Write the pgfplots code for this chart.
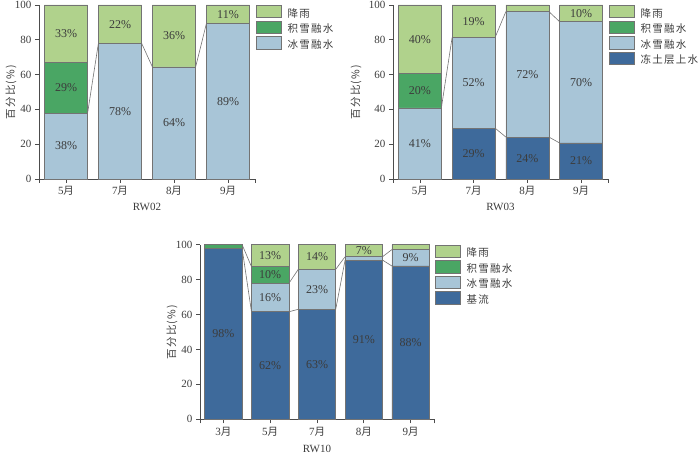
\documentclass[border=0pt]{standalone}
\usepackage{fontspec}
\setmainfont{Liberation Serif}
\newfontfamily\cjk{Noto Sans CJK SC}[LetterSpace=12]
\usepackage{pgfplots}
\pgfplotsset{compat=1.18}
\definecolor{rain}{RGB}{176,210,140}
\definecolor{snow}{RGB}{74,166,100}
\definecolor{ice}{RGB}{168,197,215}
\definecolor{base}{RGB}{62,106,155}
\definecolor{edge}{RGB}{115,115,115}
\definecolor{txt}{RGB}{60,60,60}
\newcommand\yue{{\cjk\fontsize{10.5}{12}\selectfont 月}}
\pgfplotsset{
  mybars/.style={
    ybar stacked, bar width=0.8, scale only axis, clip=false,
    ymin=0, ymax=100, ytick={0,20,...,100},
    axis x line*=bottom, axis y line*=left,
    axis line style={-, draw=black!70, line width=0.7pt},
    tick align=outside, major tick length=4pt,
    tick style={draw=black!70, line width=0.7pt},
    ticklabel style={font=\fontsize{11}{12}\selectfont, text=txt},
    /pgf/number format/assume math mode=true,
    ylabel={\cjk\fontsize{10.5}{12}\selectfont 百分比(\%)},
    ylabel style={anchor=center, text=txt},
    xlabel style={anchor=center, font=\fontsize{11}{12}\selectfont, text=txt},
    every axis plot/.append style={draw=edge, line width=0.6pt},
    legend style={at={(1,1)}, anchor=north west, xshift=1pt, draw=none, fill=none,
      inner sep=0pt, outer sep=0pt, row sep=0pt,
      font=\cjk\fontsize{10.5}{12}\selectfont, text=txt,
      nodes={inner sep=0pt, text height=9pt, text depth=3.5pt},
      /tikz/every odd column/.append style={column sep=6pt}},
    legend image code/.code={\draw[#1, draw=edge, line width=0.6pt] (0pt,-3.5pt) rectangle (25pt,9pt);},
    legend cell align=left, reverse legend,
  },
  ovl/.style={scale only axis, hide axis, clip=false, ymin=0, ymax=100},
  labs/.style={draw=none, nodes near coords={\pgfplotspointmeta\%}, point meta=explicit symbolic,
    nodes near coords style={anchor=center, font=\fontsize{12}{13}\selectfont, text=txt}},
  conn/.style={draw=edge, line width=0.6pt},
}
\begin{document}
\begin{tikzpicture}
\useasboundingbox (0pt,0pt) rectangle (700pt,454pt);
% ---------------- RW02
\begin{axis}[mybars, at={(39pt,275pt)}, anchor=south west, width=216pt, height=174pt,
  xmin=-0.5, xmax=3.5, xtick={0,1,2,3}, xticklabels={5\yue,7\yue,8\yue,9\yue},
  extra x ticks={-0.5,3.5}, extra x tick labels={},
  ylabel style={at={(axis description cs:-0.13,0.5)}},
  xlabel={RW02}, xlabel style={at={(axis description cs:0.5,-0.16)}}]
\addplot[fill=ice] coordinates {(0,37.9) (1,78.0) (2,64.4) (3,89.3)};
\addlegendentry{冰雪融水}
\addplot[fill=snow] coordinates {(0,29.3) (1,0) (2,0) (3,0)};
\addlegendentry{积雪融水}
\addplot[fill=rain] coordinates {(0,32.8) (1,22.0) (2,35.6) (3,10.7)};
\addlegendentry{降雨}
\end{axis}
\begin{axis}[ovl, at={(39pt,275pt)}, anchor=south west, width=216pt, height=174pt, xmin=-0.5, xmax=3.5]
\addplot[conn] coordinates {(0.4,37.9) (0.6,78.0)};
\addplot[conn] coordinates {(1.4,78.0) (1.6,64.4)};
\addplot[conn] coordinates {(2.4,64.4) (2.6,89.3)};
\addplot[labs] table[meta=lab] {
x y lab
0 19 38
0 52.5 29
0 83.6 33
1 39 78
1 89 22
2 32.2 64
2 82.2 36
3 44.6 89
3 94.6 11
};
\end{axis}
% ---------------- RW03
\begin{axis}[mybars, at={(393pt,275pt)}, anchor=south west, width=215pt, height=174pt,
  xmin=-0.5, xmax=3.5, xtick={0,1,2,3}, xticklabels={5\yue,7\yue,8\yue,9\yue},
  extra x ticks={-0.5,3.5}, extra x tick labels={},
  ylabel style={at={(axis description cs:-0.172,0.5)}},
  xlabel={RW03}, xlabel style={at={(axis description cs:0.5,-0.16)}}]
\addplot[fill=base] coordinates {(0,0) (1,29.2) (2,24.1) (3,20.7)};
\addlegendentry{冻土层上水}
\addplot[fill=ice] coordinates {(0,40.9) (1,52.2) (2,72.1) (3,69.7)};
\addlegendentry{冰雪融水}
\addplot[fill=snow] coordinates {(0,19.9) (1,0) (2,0) (3,0)};
\addlegendentry{积雪融水}
\addplot[fill=rain] coordinates {(0,39.2) (1,18.6) (2,3.8) (3,9.6)};
\addlegendentry{降雨}
\end{axis}
\begin{axis}[ovl, at={(393pt,275pt)}, anchor=south west, width=215pt, height=174pt, xmin=-0.5, xmax=3.5]
\addplot[conn] coordinates {(0.4,40.9) (0.6,81.4)};
\addplot[conn] coordinates {(1.4,81.4) (1.6,96.2)};
\addplot[conn] coordinates {(2.4,96.2) (2.6,90.4)};
\addplot[conn] coordinates {(1.4,29.2) (1.6,24.1)};
\addplot[conn] coordinates {(2.4,24.1) (2.6,20.7)};
\addplot[labs] table[meta=lab] {
x y lab
0 20.5 41
0 50.8 20
0 80.4 40
1 14.6 29
1 55.3 52
1 90.7 19
2 12 24
2 60.2 72
3 10.4 21
3 55.6 70
3 95.2 10
};
\end{axis}
% ---------------- RW10
\begin{axis}[mybars, at={(200pt,34.7pt)}, anchor=south west, width=234pt, height=174.6pt,
  xmin=-0.5, xmax=4.5, xtick={0,1,2,3,4}, xticklabels={3\yue,5\yue,7\yue,8\yue,9\yue},
  extra x ticks={-0.5,4.5}, extra x tick labels={},
  ylabel style={at={(axis description cs:-0.12,0.5)}},
  xlabel={RW10}, xlabel style={at={(axis description cs:0.5,-0.17)}}]
\addplot[fill=base] coordinates {(0,97.8) (1,61.6) (2,63.0) (3,91.2) (4,87.8)};
\addlegendentry{基流}
\addplot[fill=ice] coordinates {(0,0) (1,16.3) (2,22.9) (3,1.9) (4,9.4)};
\addlegendentry{冰雪融水}
\addplot[fill=snow] coordinates {(0,2.2) (1,9.5) (2,0) (3,0) (4,0)};
\addlegendentry{积雪融水}
\addplot[fill=rain] coordinates {(0,0) (1,12.6) (2,14.1) (3,6.9) (4,2.8)};
\addlegendentry{降雨}
\end{axis}
\begin{axis}[ovl, at={(200pt,34.7pt)}, anchor=south west, width=234pt, height=174.6pt, xmin=-0.5, xmax=4.5]
\addplot[conn] coordinates {(0.4,97.8) (0.6,61.6)};
\addplot[conn] coordinates {(0.4,100) (0.6,87.4)};
\addplot[conn] coordinates {(1.4,61.6) (1.6,63.0)};
\addplot[conn] coordinates {(1.4,77.9) (1.6,85.9)};
\addplot[conn] coordinates {(2.4,63.0) (2.6,91.2)};
\addplot[conn] coordinates {(2.4,85.9) (2.6,93.1)};
\addplot[conn] coordinates {(3.4,91.2) (3.6,87.8)};
\addplot[conn] coordinates {(3.4,93.1) (3.6,97.2)};
\addplot[labs] table[meta=lab] {
x y lab
0 48.9 98
1 30.8 62
1 69.8 16
1 82.6 10
1 93.7 13
2 31.5 63
2 74.5 23
2 93 14
3 45.6 91
3 96.5 7
4 43.9 88
4 92.5 9
};
\end{axis}
\end{tikzpicture}
\end{document}
